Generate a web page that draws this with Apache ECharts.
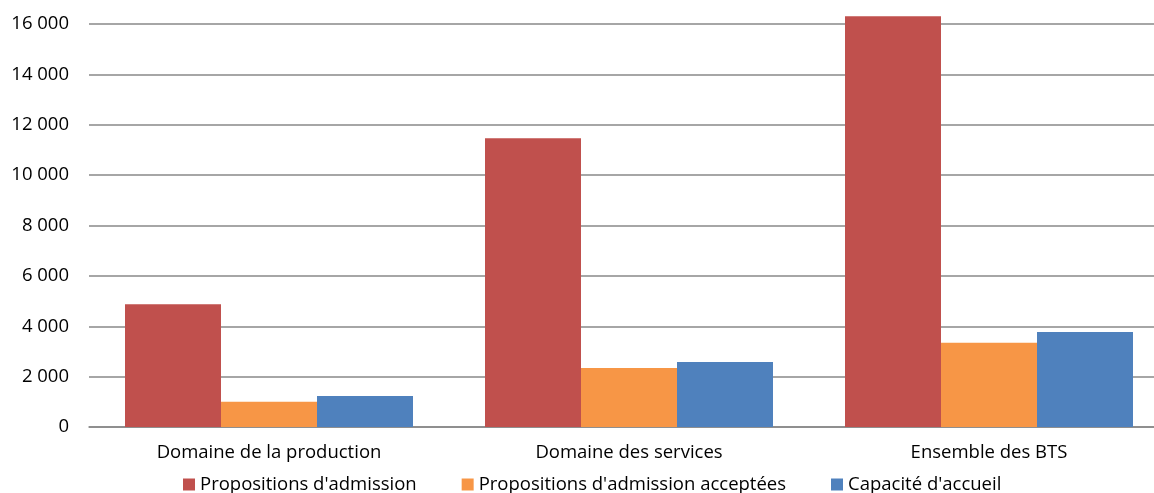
<!DOCTYPE html>
<html>
<head>
<meta charset="utf-8">
<script src="https://cdn.jsdelivr.net/npm/echarts@6/dist/echarts.min.js"></script>
<style>
html,body{margin:0;padding:0;background:#fff;}
#c{width:1154px;height:493px;}
</style>
</head>
<body>
<div id="c"></div>
<script>
const categories = ["Domaine de la production", "Domaine des services", "Ensemble des BTS"];
const seriesNames = ["Propositions d'admission", "Propositions d'admission acceptées", "Capacité d'accueil"];
const propositions = [4870, 11460, 16310];
const acceptees = [1005, 2342, 3347];
const capacite = [1230, 2580, 3772];
const colors = ["#C0504D", "#F79646", "#4F81BD"];
const yMin = 0, yMax = 16000, yInterval = 2000;

const FONT = "Open Sans";
const FS = 18.5;
const chart = echarts.init(document.getElementById('c'), null, {renderer: 'canvas'});
const values = [propositions, acceptees, capacite];
chart.setOption({
  animation: false,
  textStyle: {fontFamily: FONT},
  grid: {left: 89, width: 1080, top: 24, bottom: 66, containLabel: false, outerBoundsMode: 'none'},
  legend: {
    top: 470,
    left: 178,
    itemWidth: 12, itemHeight: 12, itemGap: 45,
    icon: 'rect',
    textStyle: {fontSize: FS, color: '#000', fontFamily: FONT},
    data: seriesNames
  },
  xAxis: {
    type: 'category',
    data: categories,
    axisTick: {show: false},
    axisLine: {lineStyle: {color: '#888', width: 1.5}},
    axisLabel: {fontSize: FS, color: '#000', margin: 16, fontFamily: FONT}
  },
  yAxis: {
    type: 'value',
    min: yMin, max: yMax, interval: yInterval,
    axisLine: {show: false},
    axisTick: {show: false},
    splitLine: {lineStyle: {color: '#888', width: 1.5}},
    axisLabel: {
      fontSize: FS, color: '#000', margin: 20, fontFamily: FONT,
      formatter: v => String(v).replace(/\B(?=(\d{3})+(?!\d))/g, ' ')
    }
  },
  series: seriesNames.map((n, i) => ({
    name: n,
    type: 'bar',
    data: values[i],
    clip: false,
    barGap: '0%',
    barCategoryGap: '20%',
    itemStyle: {color: colors[i]}
  }))
});
</script>
</body>
</html>
